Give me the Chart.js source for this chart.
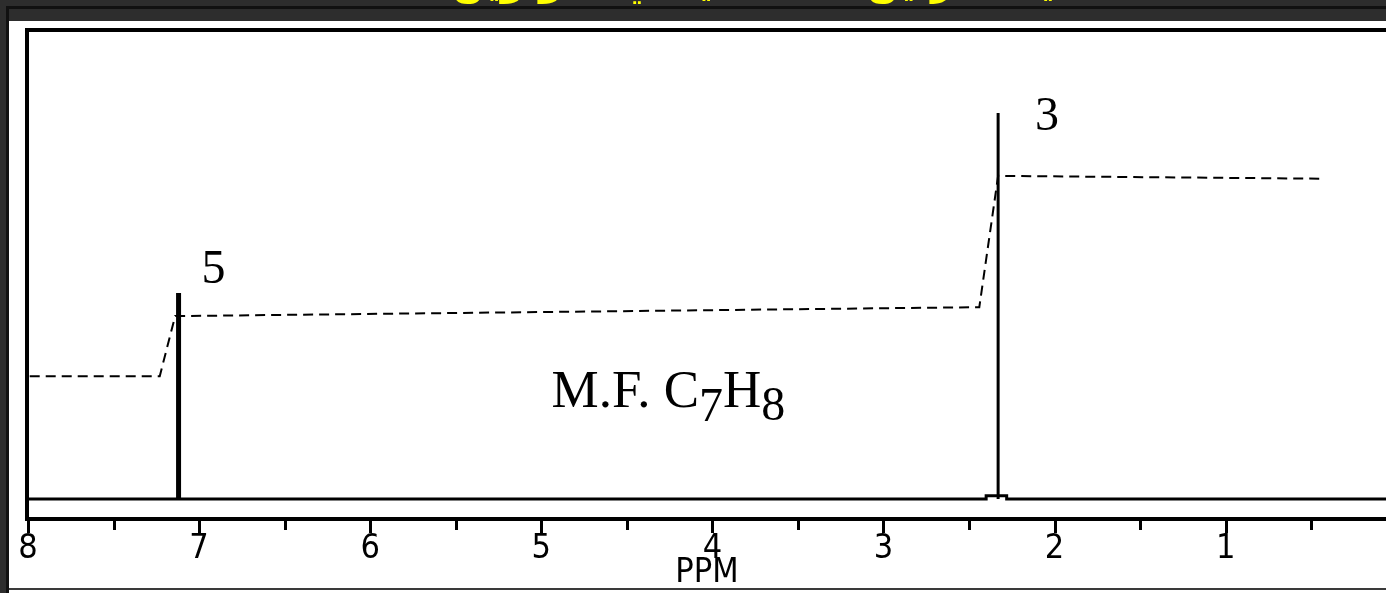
<!DOCTYPE html>
<html>
<head>
<meta charset="utf-8">
<script src="https://cdn.jsdelivr.net/npm/chart.js@4.4.0/dist/chart.umd.min.js"></script>
<style>
  html, body { margin: 0; padding: 0; background: #2d2d2d; }
  #wrap { position: absolute; left: 0; top: 0; width: 1386px; height: 593px; }
</style>
</head>
<body>
<div id="wrap"><canvas id="nmr"></canvas></div>
<script>
// chemical shift axis (ppm)
var tickValues = [8, 7.5, 7, 6.5, 6, 5.5, 5, 4.5, 4, 3.5, 3, 2.5, 2, 1.5, 1, 0.5];

// baseline of the spectrum (small step under the CH3 signal)
var baselineShifts = [8, 2.40, 2.40, 2.28, 2.28, 0];
var baselineValues = [0, 0, 0.7, 0.7, 0, 0];

// peaks: aromatic H and CH3
var peakShifts = [7.12, 2.33];
var peakHeights = [43.9, 82.3];
var peakLabels = ['5', '3'];

// integration trace
var integralShifts = [7.99, 7.23, 7.14, 2.44, 2.33, 0.45];
var integralValues = [26.2, 26.2, 39.0, 40.9, 68.9, 68.3];

var formulaShift = 4.94;
var formulaLevel = 19.6;

function pts(xs, ys) {
    var out = [];
    for (var i = 0; i < xs.length; i++) out.push({ x: xs[i], y: ys[i] });
    return out;
}

var datasets = [];
datasets.push({ data: pts(baselineShifts, baselineValues), borderColor: '#000', borderWidth: 3 });
for (var i = 0; i < peakShifts.length; i++) {
    datasets.push({
        data: [{ x: peakShifts[i], y: 0 }, { x: peakShifts[i], y: peakHeights[i] }],
        borderColor: '#000',
        borderWidth: i === 0 ? 5 : 3
    });
}
datasets.push({
    data: pts(integralShifts, integralValues),
    borderColor: '#000',
    borderWidth: 2,
    borderDash: [10, 6]
});

var framePlugin = {
    id: 'frame',
    beforeDraw: function (chart) {
        var ctx = chart.ctx;
        var w = chart.width, h = chart.height;
        ctx.save();
        ctx.fillStyle = '#2d2d2d';
        ctx.fillRect(0, 0, w, h);
        ctx.fillStyle = '#111';
        ctx.fillRect(6, 6, w, 3);
        ctx.fillRect(6, 6, 3, h);
        // slide title (mostly above the visible area)
        ctx.fillStyle = '#ffff00';
        ctx.font = 'bold 38px "DejaVu Sans"';
        ctx.textAlign = 'center';
        ctx.textBaseline = 'alphabetic';
        ctx.direction = 'rtl';
        ctx.fillText('طيف الرنين المغناطيسي للتولوين', 772, -5);
        ctx.fillStyle = '#fff';
        ctx.fillRect(9, 21, w - 9, h - 21);
        ctx.fillStyle = '#3a3a3a';
        ctx.fillRect(9, 588, w - 9, 2);
        ctx.restore();
    },
    afterDatasetsDraw: function (chart) {
        var ctx = chart.ctx;
        var xs = chart.scales.x, ys = chart.scales.y;
        var a = chart.chartArea;
        ctx.save();
        // plot frame
        ctx.strokeStyle = '#000';
        ctx.lineWidth = 4;
        ctx.strokeRect(a.left - 1, a.top, a.right - a.left + 10, a.bottom - a.top);
        // tick marks
        ctx.lineWidth = 3;
        xs.ticks.forEach(function (t) {
            var px = Math.round(xs.getPixelForValue(t.value)) + 0.5;
            var len = Number.isInteger(t.value) ? 14 : 11;
            ctx.beginPath();
            ctx.moveTo(px, a.bottom);
            ctx.lineTo(px, a.bottom + len);
            ctx.stroke();
        });
        // peak integration labels
        ctx.fillStyle = '#000';
        ctx.font = '48px "Liberation Serif"';
        ctx.textAlign = 'center';
        ctx.textBaseline = 'alphabetic';
        var offs = [[35, -10], [49, 17]];
        for (var i = 0; i < peakShifts.length; i++) {
            var px = xs.getPixelForValue(peakShifts[i]);
            var py = ys.getPixelForValue(peakHeights[i]);
            ctx.fillText(peakLabels[i], px + offs[i][0], py + offs[i][1]);
        }
        // molecular formula
        var fx = xs.getPixelForValue(formulaShift);
        var fy = ys.getPixelForValue(formulaLevel);
        ctx.textAlign = 'left';
        var parts = [['M.F. C', 53, 0], ['7', 48, 14], ['H', 53, 0], ['8', 48, 13]];
        parts.forEach(function (p) {
            ctx.font = p[1] + 'px "Liberation Serif"';
            ctx.fillText(p[0], fx, fy + p[2]);
            fx += ctx.measureText(p[0]).width;
        });
        ctx.restore();
    }
};

var axisFont = '"DejaVu Sans Condensed", "DejaVu Sans"';

var chart = new Chart(document.getElementById('nmr'), {
    type: 'scatter',
    data: { datasets: datasets },
    options: {
        responsive: true,
        maintainAspectRatio: false,
        devicePixelRatio: 1,
        animation: false,
        showLine: true,
        elements: { point: { radius: 0, hoverRadius: 0 }, line: { tension: 0, borderCapStyle: 'butt' } },
        layout: { padding: { left: 28, top: 30, right: 0, bottom: 0 } },
        plugins: { legend: { display: false }, tooltip: { enabled: false } },
        scales: {
            x: {
                type: 'linear',
                reverse: true,
                min: 0.063,
                max: 8,
                afterBuildTicks: function (s) {
                    s.ticks = tickValues.map(function (v) { return { value: v }; });
                },
                afterFit: function (s) { s.height = 74; },
                grid: { display: false, drawTicks: false },
                border: { display: false },
                ticks: {
                    autoSkip: false,
                    maxRotation: 0,
                    padding: 13,
                    color: '#000',
                    font: { family: axisFont, size: 34, lineHeight: 1 },
                    callback: function (v) { return Number.isInteger(v) ? String(v) : ''; }
                },
                title: {
                    display: true,
                    text: 'PPM',
                    color: '#000',
                    font: { family: axisFont, size: 34, lineHeight: 1 },
                    padding: { top: 0, bottom: 3 }
                }
            },
            y: {
                type: 'linear',
                display: false,
                min: -4.26,
                max: 100
            }
        }
    },
    plugins: [framePlugin]
});
</script>
</body>
</html>
